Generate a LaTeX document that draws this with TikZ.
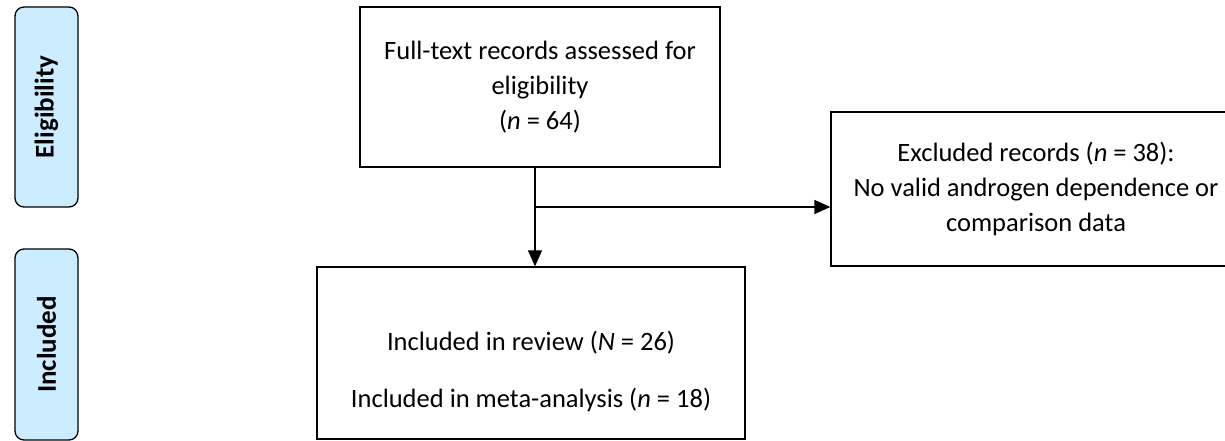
\documentclass[tikz,border=0pt]{standalone}
\usepackage{fontspec}
\setmainfont{Carlito}
\usetikzlibrary{positioning}
\usetikzlibrary{arrows.meta}
\definecolor{stagefill}{RGB}{204,236,255}

\tikzset{
  box/.style={draw, line width=1.3pt, align=center, inner sep=0pt,
    font=\fontsize{26.5}{35}\selectfont},
  stage/.style={draw, line width=1.3pt, fill=stagefill, rounded corners=9pt,
    rotate=90, inner sep=0pt, minimum height=63pt,
    font=\fontsize{27}{32}\selectfont\bfseries},
  arrow/.style={-{Triangle[length=16pt,width=14pt]}, line width=1.3pt},
}

\begin{document}
\begin{tikzpicture}[x=1pt,y=1pt]
\clip (0,0) rectangle (1225,441);
% stage labels on the left
\node[stage, minimum width=200pt] at(46.5,334)(elig) {Eligibility};
\node[stage, minimum width=191pt] at(46.5,96.5)(incstage) {Included};
% flow boxes
\node[box, minimum width=360pt, minimum height=160pt] at(540,354)(full)
  {Full-text records assessed for\\eligibility\\(\textit{n} = 64)};
\node[box, minimum width=410pt, minimum height=154pt] at(1036,252)(excl)
  {Excluded records (\textit{n} = 38):\\No valid androgen dependence or\\comparison data};
\node[box, minimum width=428pt, minimum height=172pt] at(531,88)(incl)
  {\mbox{}\\[22pt]Included in review (\textit{N} = 26)\\[22pt]Included in meta-analysis (\textit{n} = 18)};
\coordinate (split) at (535,234);
\draw[arrow] (full.south -| split) -- (incl.north -| split);
\draw[arrow] (split) -- (split -| excl.west);
\end{tikzpicture}
\end{document}
